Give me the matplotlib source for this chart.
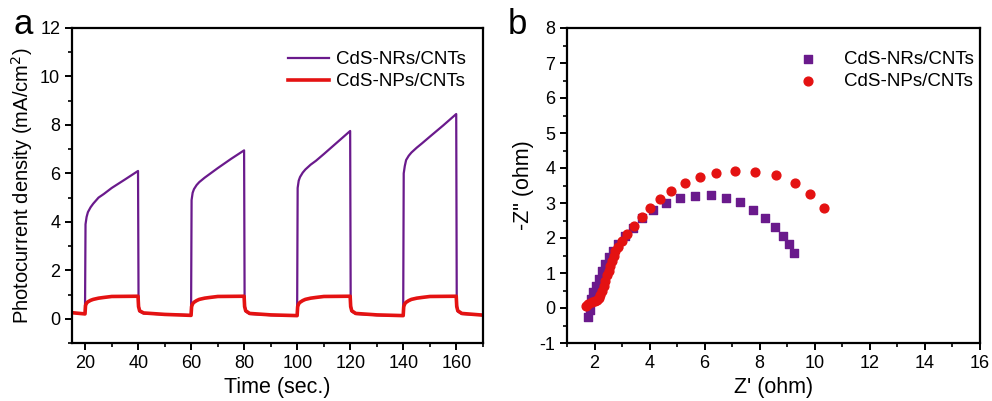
import numpy as np
import matplotlib
matplotlib.use("Agg")
import matplotlib.pyplot as plt
from matplotlib.ticker import MultipleLocator

plt.rcParams['font.family'] = ['Liberation Sans', 'DejaVu Sans']
plt.rcParams['axes.unicode_minus'] = False

purple = '#6a1a8c'
red = '#e41212'

# panel a: photocurrent vs time
t_nr = [15, 19.9, 20.1, 20.5, 21, 22, 23, 25, 27, 30, 35, 39.9, 40.1, 40.5, 42, 50, 59.9,
        60.1, 60.5, 61, 62, 63, 65, 67, 70, 75, 79.9, 80.1, 80.5, 82, 90, 99.9,
        100.1, 100.5, 101, 102, 103, 105, 107, 110, 115, 119.9, 120.1, 120.5, 122, 130, 139.9,
        140.1, 140.5, 141, 142, 143, 145, 147, 150, 155, 159.9, 160.1, 160.5, 162, 170]
j_nr = [0.25, 0.2, 3.9, 4.2, 4.4, 4.6, 4.75, 5.0, 5.15, 5.4, 5.75, 6.1, 0.6, 0.3, 0.22, 0.18, 0.15,
        4.9, 5.2, 5.35, 5.52, 5.64, 5.82, 5.98, 6.22, 6.6, 6.95, 0.6, 0.3, 0.2, 0.15, 0.12,
        5.4, 5.7, 5.85, 6.03, 6.16, 6.36, 6.52, 6.8, 7.28, 7.75, 0.6, 0.3, 0.2, 0.15, 0.12,
        6.0, 6.3, 6.55, 6.73, 6.86, 7.06, 7.24, 7.52, 7.98, 8.45, 0.6, 0.3, 0.2, 0.15]

t_np = [15, 19.9, 20.1, 20.5, 21, 22, 23, 25, 27, 30, 39.9, 40.1, 40.5, 42, 50, 59.9,
        60.1, 60.5, 61, 62, 63, 65, 67, 70, 79.9, 80.1, 80.5, 82, 90, 99.9,
        100.1, 100.5, 101, 102, 103, 105, 107, 110, 119.9, 120.1, 120.5, 122, 130, 139.9,
        140.1, 140.5, 141, 142, 143, 145, 147, 150, 159.9, 160.1, 160.5, 162, 170]
j_np = [0.25, 0.2, 0.55, 0.65, 0.7, 0.76, 0.8, 0.85, 0.88, 0.92, 0.93, 0.5, 0.33, 0.24, 0.18, 0.14,
        0.5, 0.62, 0.68, 0.75, 0.8, 0.85, 0.88, 0.92, 0.93, 0.5, 0.33, 0.22, 0.16, 0.13,
        0.5, 0.62, 0.68, 0.75, 0.8, 0.85, 0.88, 0.92, 0.93, 0.5, 0.33, 0.22, 0.16, 0.13,
        0.5, 0.62, 0.68, 0.75, 0.8, 0.85, 0.88, 0.92, 0.93, 0.5, 0.33, 0.22, 0.15]

# panel b: Nyquist plots
zre_nr = [1.78, 1.82, 1.87, 1.96, 2.06, 2.15, 2.27, 2.39, 2.51, 2.67, 2.87, 3.12, 3.38, 3.72,
          4.14, 4.60, 5.11, 5.66, 6.23, 6.77, 7.29, 7.75, 8.20, 8.56, 8.84, 9.06, 9.25]
zim_nr = [-0.26, -0.07, 0.27, 0.46, 0.64, 0.83, 1.07, 1.26, 1.45, 1.64, 1.83, 2.07, 2.30, 2.56,
          2.81, 3.00, 3.13, 3.21, 3.23, 3.14, 3.02, 2.81, 2.57, 2.32, 2.07, 1.82, 1.57]

zre_np = [1.70, 1.78, 1.91, 2.00, 2.09, 2.15, 2.21, 2.27, 2.33, 2.39, 2.45, 2.51, 2.57, 2.63,
          2.69, 2.76, 2.84, 2.99, 3.18, 3.42, 3.72, 4.00, 4.36, 4.79, 5.27, 5.84, 6.42,
          7.09, 7.84, 8.60, 9.27, 9.84, 10.32]
zim_np = [0.07, 0.12, 0.17, 0.20, 0.22, 0.28, 0.36, 0.50, 0.64, 0.78, 0.93, 1.07, 1.21, 1.35,
          1.50, 1.62, 1.74, 1.92, 2.12, 2.35, 2.59, 2.85, 3.11, 3.35, 3.57, 3.75, 3.87,
          3.92, 3.89, 3.79, 3.57, 3.27, 2.87]

fig = plt.figure(figsize=(9.92, 4.01), dpi=100)
ax1 = fig.add_axes([72/992, 1-343/401, 411/992, 315/401])
ax2 = fig.add_axes([567/992, 1-343/401, 413/992, 315/401])

ax1.plot(t_nr, j_nr, color=purple, lw=1.6, label='CdS-NRs/CNTs')
ax1.plot(t_np, j_np, color=red, lw=2.6, label='CdS-NPs/CNTs')
ax1.set_xlim(15, 170)
ax1.set_ylim(-1, 12)
ax1.xaxis.set_major_locator(MultipleLocator(20))
ax1.xaxis.set_minor_locator(MultipleLocator(10))
ax1.yaxis.set_major_locator(MultipleLocator(2))
ax1.yaxis.set_minor_locator(MultipleLocator(1))
ax1.set_xlabel('Time (sec.)', fontsize=15.5)
ax1.set_ylabel('Photocurrent density (mA/cm$^2$)', fontsize=14.5)
ax1.legend(loc='upper right', fontsize=13.5, frameon=False, handlelength=2.2,
           handletextpad=0.4, labelspacing=0.25, bbox_to_anchor=(1.0, 0.98))

ax2.scatter(zre_nr, zim_nr, marker='s', s=30, color=purple, label='CdS-NRs/CNTs', zorder=2)
ax2.scatter(zre_np, zim_np, marker='o', s=40, color=red, label='CdS-NPs/CNTs', zorder=3)
ax2.set_xlim(1, 16)
ax2.set_ylim(-1, 8)
ax2.xaxis.set_major_locator(MultipleLocator(2))
ax2.xaxis.set_minor_locator(MultipleLocator(1))
ax2.yaxis.set_major_locator(MultipleLocator(1))
ax2.yaxis.set_minor_locator(MultipleLocator(0.5))
ax2.set_xlabel("Z' (ohm)", fontsize=15.5)
ax2.set_ylabel('-Z" (ohm)', fontsize=15.5)
ax2.legend(loc='upper right', fontsize=13.5, frameon=False, handletextpad=0.9,
           labelspacing=0.25, bbox_to_anchor=(1.025, 0.98))

for ax in (ax1, ax2):
    for s in ax.spines.values():
        s.set_linewidth(1.6)
    ax.tick_params(which='major', direction='out', length=5, width=1.4, labelsize=13,
                   top=False, right=False, colors='black')
    ax.tick_params(which='minor', direction='out', length=3, width=1.2, top=False, right=False)

fig.text(0.014, 0.915, 'a', fontsize=25)
fig.text(0.512, 0.915, 'b', fontsize=25)

fig.savefig('out.png', dpi=100)
